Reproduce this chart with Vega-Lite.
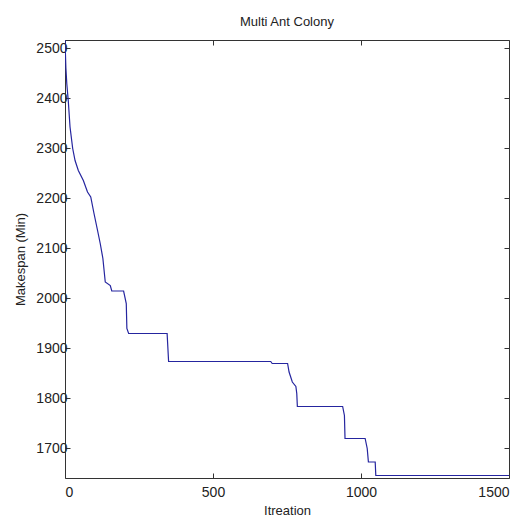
{
  "$schema": "https://vega.github.io/schema/vega-lite/v6.json",
  "width": 444,
  "height": 438,
  "autosize": "none",
  "padding": {"left": 65, "top": 40, "right": 14, "bottom": 45},
  "background": "white",
  "config": {
    "view": {"stroke": null},
    "font": "Liberation Sans",
    "axis": {
      "grid": false,
      "domainColor": "#333333",
      "tickColor": "#333333",
      "labelColor": "#222222",
      "titleColor": "#222222",
      "labelFont": "Liberation Sans",
      "titleFont": "Liberation Sans",
      "labelFontSize": 14,
      "titleFontSize": 13,
      "titleFontWeight": "normal",
      "tickSize": -5,
      "format": "d"
    }
  },
  "title": {
    "text": "Multi Ant Colony",
    "font": "Liberation Sans",
    "fontSize": 13,
    "fontWeight": "normal",
    "color": "#222222",
    "anchor": "middle",
    "offset": 11
  },
  "data": {
    "values": [
      {"iter": 0, "makespan": 2516},
      {"iter": 3, "makespan": 2460},
      {"iter": 6, "makespan": 2429},
      {"iter": 11, "makespan": 2395},
      {"iter": 17, "makespan": 2342},
      {"iter": 26, "makespan": 2299},
      {"iter": 34, "makespan": 2275},
      {"iter": 45, "makespan": 2255},
      {"iter": 62, "makespan": 2235},
      {"iter": 76, "makespan": 2212},
      {"iter": 87, "makespan": 2202},
      {"iter": 98, "makespan": 2169},
      {"iter": 110, "makespan": 2135},
      {"iter": 119, "makespan": 2109},
      {"iter": 128, "makespan": 2079},
      {"iter": 136, "makespan": 2032},
      {"iter": 153, "makespan": 2025},
      {"iter": 158, "makespan": 2014},
      {"iter": 198, "makespan": 2014},
      {"iter": 207, "makespan": 1989},
      {"iter": 209, "makespan": 1939},
      {"iter": 215, "makespan": 1929},
      {"iter": 345, "makespan": 1929},
      {"iter": 350, "makespan": 1873},
      {"iter": 695, "makespan": 1873},
      {"iter": 700, "makespan": 1869},
      {"iter": 752, "makespan": 1869},
      {"iter": 757, "makespan": 1852},
      {"iter": 768, "makespan": 1832},
      {"iter": 780, "makespan": 1823},
      {"iter": 783, "makespan": 1809},
      {"iter": 785, "makespan": 1783},
      {"iter": 938, "makespan": 1783},
      {"iter": 944, "makespan": 1765},
      {"iter": 946, "makespan": 1719},
      {"iter": 1014, "makespan": 1719},
      {"iter": 1021, "makespan": 1699},
      {"iter": 1025, "makespan": 1672},
      {"iter": 1048, "makespan": 1672},
      {"iter": 1050, "makespan": 1645},
      {"iter": 1500, "makespan": 1645}
    ]
  },
  "layer": [
    {
      "mark": {"type": "line", "color": "#25259f", "strokeWidth": 1.2, "clip": true},
      "encoding": {
        "x": {
          "field": "iter", "type": "quantitative",
          "scale": {"domain": [0, 1500], "nice": false, "zero": false},
          "axis": {"title": "Itreation", "values": [0, 500, 1000, 1500], "labelPadding": 12, "titlePadding": 5}
        },
        "y": {
          "field": "makespan", "type": "quantitative",
          "scale": {"domain": [1640, 2516], "nice": false, "zero": false},
          "axis": {"title": "Makespan (Min)", "values": [1700, 1800, 1900, 2000, 2100, 2200, 2300, 2400, 2500], "labelPadding": 3, "titlePadding": 8}
        }
      }
    },
    {
      "mark": {"type": "line", "opacity": 0},
      "encoding": {
        "x": {
          "field": "iter", "type": "quantitative",
          "scale": {"domain": [0, 1500], "nice": false, "zero": false},
          "axis": {"orient": "top", "title": null, "labels": false, "values": [0, 500, 1000, 1500]}
        },
        "y": {
          "field": "makespan", "type": "quantitative",
          "scale": {"domain": [1640, 2516], "nice": false, "zero": false},
          "axis": {"orient": "right", "title": null, "labels": false, "values": [1700, 1800, 1900, 2000, 2100, 2200, 2300, 2400, 2500]}
        }
      }
    }
  ],
  "resolve": {"scale": {"x": "independent", "y": "independent"}}
}
